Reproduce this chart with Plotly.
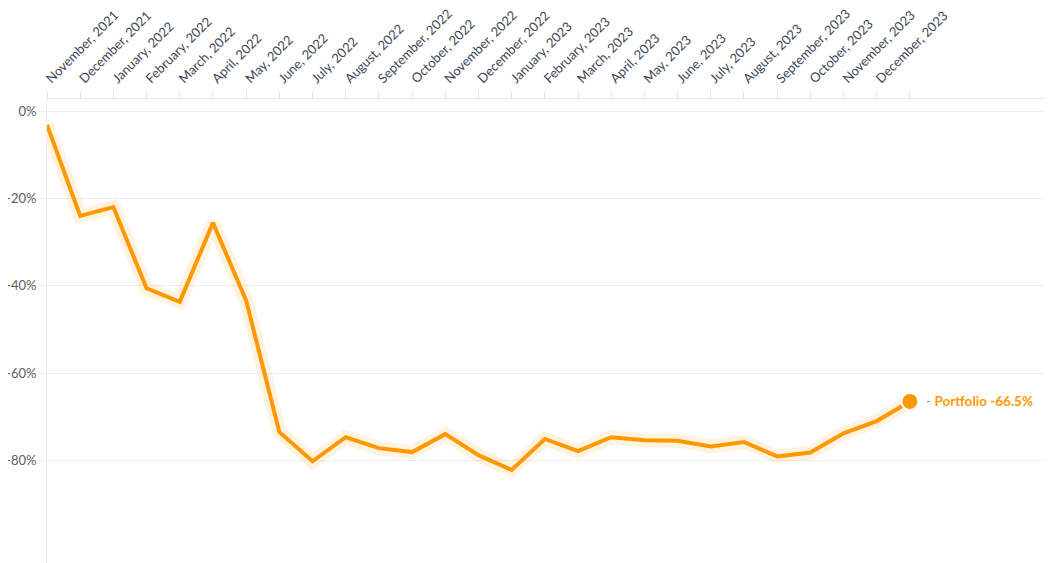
import plotly.graph_objects as go

# month labels shown on the top axis (last point has no label)
months = ["November, 2021", "December, 2021", "January, 2022", "February, 2022",
          "March, 2022", "April, 2022", "May, 2022", "June, 2022", "July, 2022",
          "August, 2022", "September, 2022", "October, 2022", "November, 2022",
          "December, 2022", "January, 2023", "February, 2023", "March, 2023",
          "April, 2023", "May, 2023", "June, 2023", "July, 2023", "August, 2023",
          "September, 2023", "October, 2023", "November, 2023", "December, 2023", ""]

# portfolio return in %
portfolio = [-3.2, -24.0, -22.0, -40.6, -43.7, -25.6, -43.4, -73.5, -80.2, -74.7,
             -77.2, -78.1, -74.0, -78.8, -82.2, -75.1, -77.9, -74.7, -75.4, -75.5,
             -76.8, -75.8, -79.1, -78.2, -73.8, -71.0, -66.5]

y_ticks = [0, -20, -40, -60, -80]
y_labels = ["0%", "-20%", "-40%", "-60%", "-80%"]

idx = list(range(len(portfolio)))
orange = "#ff9800"

fig = go.Figure()
# soft glow behind the line
fig.add_trace(go.Scatter(x=idx, y=portfolio, mode="lines",
                         line=dict(color="rgba(255,152,0,0.13)", width=14),
                         hoverinfo="skip", showlegend=False))
fig.add_trace(go.Scatter(x=idx, y=portfolio, mode="lines",
                         line=dict(color=orange, width=4),
                         name="Portfolio", showlegend=False))
# end point
fig.add_trace(go.Scatter(x=[idx[-1]], y=[portfolio[-1]], mode="markers",
                         marker=dict(color=orange, size=17,
                                     line=dict(color="white", width=2)),
                         showlegend=False, hoverinfo="skip"))

fig.add_annotation(x=idx[-1], y=portfolio[-1], xanchor="left", yanchor="middle",
                   xshift=14, showarrow=False,
                   text="<span style='color:#999999'>-</span> <b>Portfolio %.1f%%</b>" % portfolio[-1],
                   font=dict(family="Source Sans Pro, Lato, sans-serif", size=13.5, color=orange))

# page body has an 8px margin, so the figure is a bit smaller than the window
fig.update_layout(
    width=1041, height=555,
    margin=dict(l=39, r=4, t=91, b=0),
    paper_bgcolor="white", plot_bgcolor="white",
    font=dict(family="Source Sans Pro, Lato, sans-serif", size=13, color="#444444"),
    xaxis=dict(side="top", range=[0, 30.07], tickmode="array", tickvals=idx,
               ticktext=months, tickangle=-45, showgrid=False, zeroline=False,
               showline=True, linecolor="#e8e8e8", linewidth=1, automargin=False,
               ticks="outside", ticklen=7, tickcolor="#e8e8e8",
               tickfont=dict(size=13, color="#3d4556")),
    yaxis=dict(range=[-103.5, 2.75], tickmode="array", tickvals=y_ticks,
               ticktext=y_labels, showgrid=True, gridcolor="#eeeeee",
               zeroline=False, showline=True, linecolor="#eeeeee", automargin=False,
               ticks="outside", ticklen=7, tickcolor="#eeeeee",
               tickfont=dict(size=13, color="#5c5c5c")),
)

fig.write_html("out.html")
